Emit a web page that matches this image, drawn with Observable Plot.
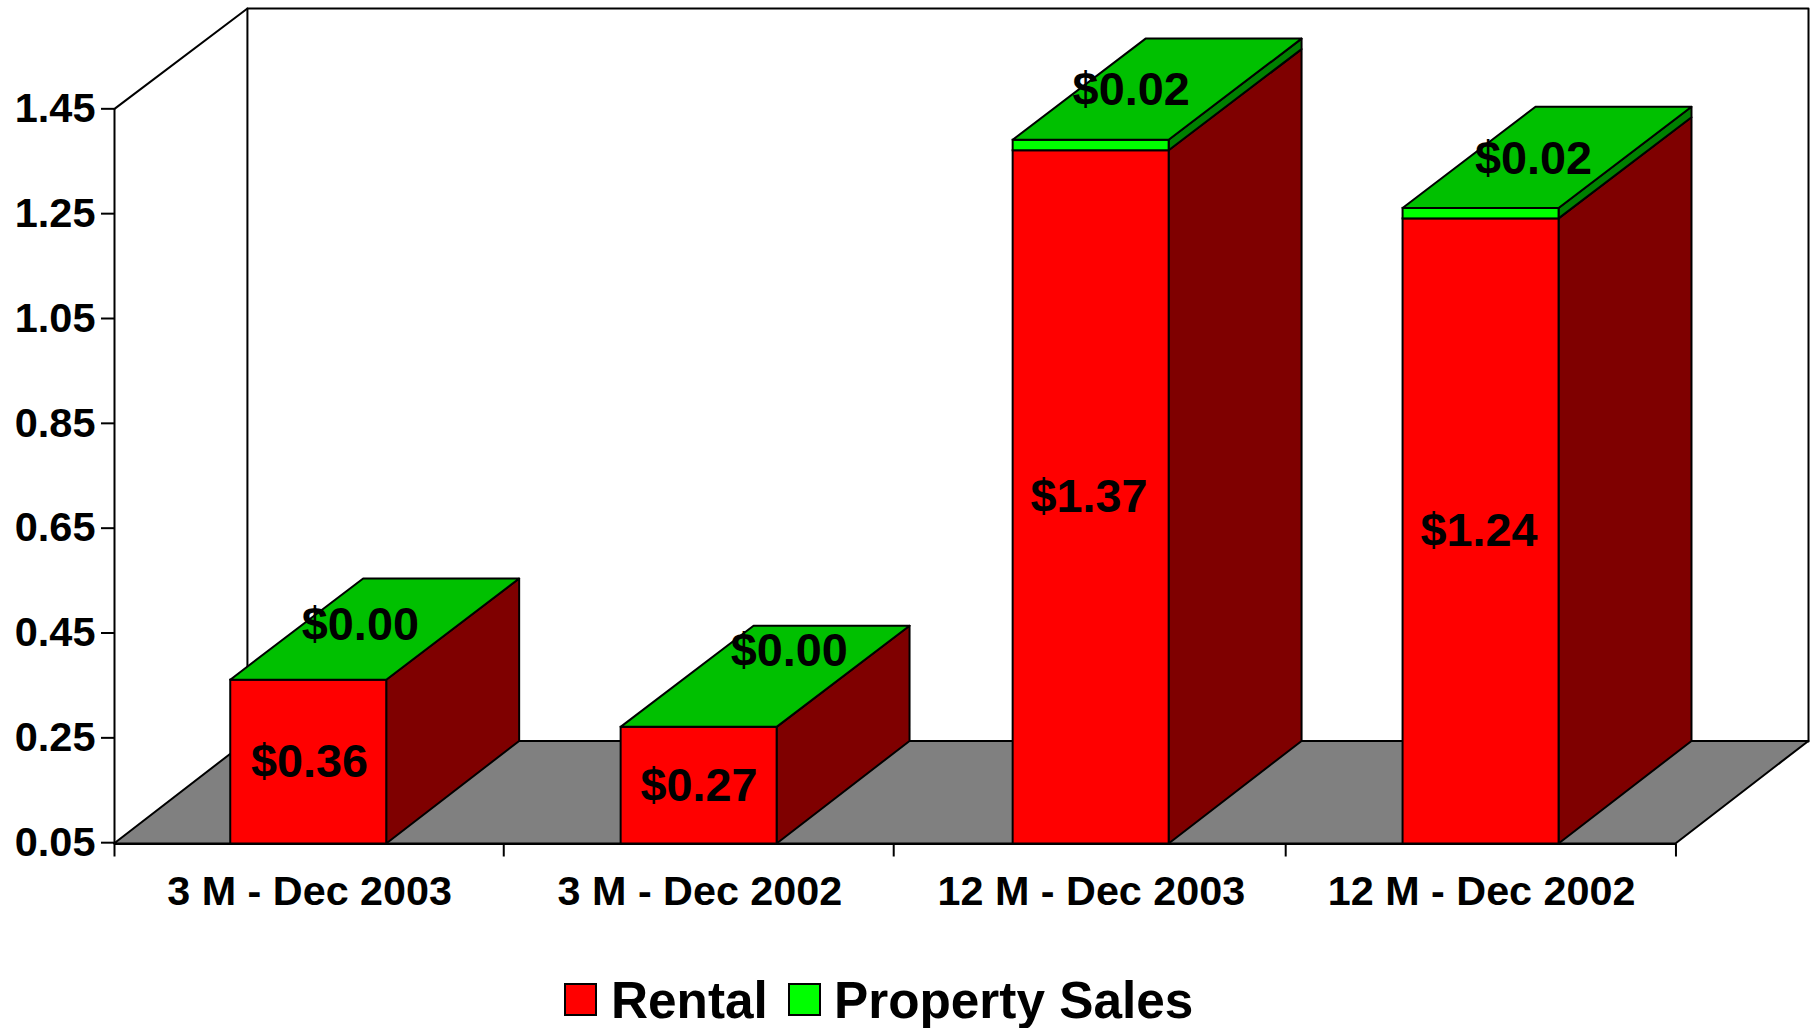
<!DOCTYPE html>
<html>
<head>
<meta charset="utf-8">
<script src="https://cdn.jsdelivr.net/npm/d3@7"></script>
<script src="https://cdn.jsdelivr.net/npm/@observablehq/plot@0.6"></script>
<style>
html,body{margin:0;padding:0;background:#fff;width:1810px;height:1028px;overflow:hidden}
body{font-family:"Liberation Sans",Arial,sans-serif}
#legend{height:78px;position:relative;font-weight:bold;font-size:51.3px;color:#000}
.sw{position:absolute;top:33px;width:33px;height:33px;box-sizing:border-box;border:2px solid #000}
.lb{position:absolute;top:22px;line-height:58px;white-space:nowrap}
</style>
</head>
<body>
<div id="chart"></div>
<div id="legend"></div>
<script>
const categories = ["3 M - Dec 2003", "3 M - Dec 2002", "12 M - Dec 2003", "12 M - Dec 2002"];
const rental = [0.36, 0.27, 1.37, 1.24];
const propertySales = [0.00, 0.00, 0.02, 0.02];
const yTicks = [0.05, 0.25, 0.45, 0.65, 0.85, 1.05, 1.25, 1.45];
const seriesNames = ["Rental", "Property Sales"];

// positions along the category axis, in scale units
const categoryEdges = [0, 0.9974, 1.9966, 3.001, 4.001];
const barCenters = [0.4977, 1.498, 2.5025, 3.5016];
const categoryLabelAt = [0.5, 1.5, 2.503, 3.503];
const rentalLabelAt = [0.4995, 1.4975, 2.4968, 3.4964];
// label placement on the top face, in scale units
const salesLabelAtX = [0.63, 1.729, 2.605, 3.636];
const salesLabelShiftY = [0.105, 0.145, 0.105, 0.105];

// oblique projection, in scale units
const base = 0.0475;
const depthX = 0.3406;
const depthY = 0.1957;
const topDepthY = 0.193;
const yTop = 1.6414;
const barWidth = 0.3997;
const font = '"Liberation Sans", Arial, sans-serif';

const bars = categories.map((c, i) => ({
  c, i,
  left: barCenters[i] - barWidth / 2,
  right: barCenters[i] + barWidth / 2,
  rental: rental[i],
  sales: propertySales[i],
  total: rental[i] + propertySales[i]
}));

const sideRows = (lo, hi, loDepth) => bars.flatMap(b => [
  {bar: b.i, x: b.right, y1: lo(b), y2: hi(b)},
  {bar: b.i, x: b.right + depthX, y1: lo(b) + loDepth, y2: hi(b) + topDepthY}
]);
const topRows = bars.flatMap(b => [
  {bar: b.i, y: b.total, x1: b.left, x2: b.right},
  {bar: b.i, y: b.total + topDepthY, x1: b.left + depthX, x2: b.right + depthX}
]);
const floorRows = [
  {y: base, x1: 0, x2: 4.001},
  {y: base + depthY, x1: depthX, x2: 4.001 + depthX}
];
const wall = [
  {x: depthX, y: base + depthY},
  {x: depthX, y: yTop},
  {x: 4 + depthX, y: yTop},
  {x: 4 + depthX, y: base + depthY}
];
const obliqueTop = [{x: 0, y: 1.45}, {x: depthX, y: yTop}];
const greenBars = bars.filter(b => b.sales > 0);
const edge = {stroke: "#000", strokeWidth: 2};

const chart = Plot.plot({
  width: 1810,
  height: 950,
  marginLeft: 114,
  marginRight: 2,
  marginTop: 8,
  marginBottom: 106.5,
  style: {fontFamily: font, background: "#fff", color: "#000"},
  x: {domain: [0, 4 + depthX], label: null},
  y: {domain: [base, yTop], label: null},
  marks: [
    Plot.areaX(floorRows, {x1: "x1", x2: "x2", y: "y", fill: "#808080", ...edge}),
    Plot.line(wall, {x: "x", y: "y", ...edge}),
    Plot.line(obliqueTop, {x: "x", y: "y", ...edge}),
    Plot.ruleX([0], {y1: base, y2: 1.45, ...edge}),
    Plot.ruleY([base], {x1: 0, x2: 4.001, ...edge}),
    Plot.axisY({ticks: yTicks, tickFormat: d3.format(".2f"), tickSize: 13, tickPadding: 6,
      fontSize: 41.5, fontWeight: "bold", label: null, ...edge}),
    Plot.axisX({ticks: categoryEdges, tickFormat: () => "", tickSize: 13, label: null, ...edge}),
    Plot.axisX({ticks: categoryLabelAt, tickFormat: v => categories[categoryLabelAt.indexOf(v)],
      tickSize: 0, tickPadding: 32, fontSize: 41.3, fontWeight: "bold", label: null}),
    Plot.areaY(sideRows(b => base, b => b.rental, depthY), {x: "x", y1: "y1", y2: "y2", z: "bar", fill: "#7f0000", ...edge}),
    Plot.areaY(sideRows(b => b.rental, b => b.total, topDepthY).filter(r => propertySales[r.bar] > 0),
      {x: "x", y1: "y1", y2: "y2", z: "bar", fill: "#008000", ...edge}),
    Plot.rect(bars, {x1: "left", x2: "right", y1: base, y2: "rental", fill: "#ff0000", ...edge}),
    Plot.rect(greenBars, {x1: "left", x2: "right", y1: "rental", y2: "total", fill: "#00ff00", ...edge}),
    Plot.areaX(topRows, {x1: "x1", x2: "x2", y: "y", z: "bar", fill: "#00c000", ...edge}),
    Plot.text(bars, {x: b => rentalLabelAt[b.i], y: b => (base + b.rental) / 2, text: b => d3.format("$.2f")(b.rental),
      fontSize: 46.8, fontWeight: "bold", fill: "#000"}),
    Plot.text(bars, {x: b => salesLabelAtX[b.i], y: b => b.rental + b.sales / 2 + salesLabelShiftY[b.i],
      text: b => d3.format("$.2f")(b.sales), fontSize: 46.8, fontWeight: "bold", fill: "#000"})
  ]
});
document.getElementById("chart").append(chart);
chart.style.display = "block";

const legend = document.getElementById("legend");
const legendColors = ["#ff0000", "#00ff00"];
const swatchLeft = [564, 788];
const labelLeft = [611, 834];
seriesNames.forEach((name, i) => {
  const s = document.createElement("div");
  s.className = "sw"; s.style.left = swatchLeft[i] + "px"; s.style.background = legendColors[i];
  const t = document.createElement("div");
  t.className = "lb"; t.style.left = labelLeft[i] + "px"; t.textContent = name;
  legend.append(s, t);
});
</script>
</body>
</html>
